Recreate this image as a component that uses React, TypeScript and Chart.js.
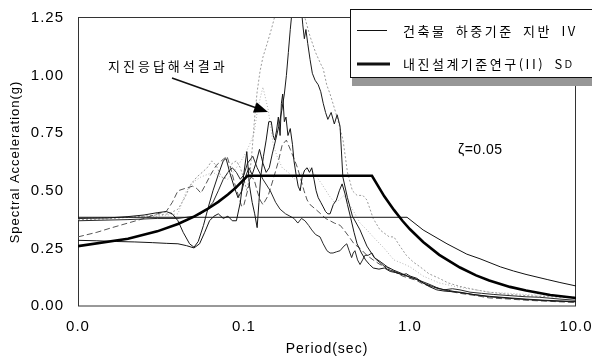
import { useEffect, useRef } from 'react';
import { Chart, registerables } from 'chart.js';

Chart.register(...registerables);

// Period (sec) / spectral acceleration (g) pairs
type Pt = [number, number];

// Design spectrum: building load code, soil type IV
const codeSoilIV: Pt[] = [
  [0.01, 0.385], [0.96, 0.385], [1.2, 0.33], [1.67, 0.27], [2.2, 0.225], [2.64, 0.205],
  [3.5, 0.17], [4.2, 0.152], [5, 0.137], [6.7, 0.115], [8, 0.102], [10, 0.087],
];

// Design spectrum: seismic design criteria study (II), SD
const criteriaSD: Pt[] = [
  [0.01, 0.26], [0.02, 0.292], [0.03, 0.324], [0.04, 0.356], [0.05, 0.388], [0.06, 0.42],
  [0.07, 0.452], [0.08, 0.484], [0.09, 0.516], [0.105, 0.565], [0.59, 0.565], [0.7, 0.476],
  [0.8, 0.417], [0.9, 0.37], [1.0, 0.333], [1.2, 0.278], [1.5, 0.222], [2, 0.167], [2.5, 0.133],
  [3, 0.111], [4, 0.083], [5, 0.067], [7, 0.048], [10, 0.035],
];

// Site response analysis results
const resp1: Pt[] = [
  [0.01, 0.285], [0.013, 0.283], [0.017, 0.28], [0.022, 0.278], [0.028, 0.275], [0.034, 0.272],
  [0.04, 0.27], [0.045, 0.262], [0.05, 0.252], [0.054, 0.27], [0.058, 0.32], [0.062, 0.37],
  [0.066, 0.39], [0.07, 0.4], [0.075, 0.38], [0.08, 0.39], [0.085, 0.37], [0.09, 0.37],
  [0.095, 0.45], [0.1, 0.58], [0.104, 0.67], [0.108, 0.52], [0.112, 0.45], [0.116, 0.4],
  [0.12, 0.34], [0.123, 0.45], [0.126, 0.56], [0.131, 0.65], [0.136, 0.72], [0.141, 0.8],
  [0.146, 0.8], [0.15, 0.74], [0.153, 0.72], [0.157, 0.76], [0.161, 0.82], [0.165, 0.74],
  [0.168, 0.88], [0.171, 0.92], [0.175, 0.8], [0.179, 0.82], [0.184, 0.74], [0.19, 0.77],
  [0.196, 0.7], [0.2, 0.63], [0.206, 0.57], [0.212, 0.52], [0.218, 0.5], [0.224, 0.56],
  [0.232, 0.59], [0.24, 0.6], [0.248, 0.58], [0.256, 0.6], [0.264, 0.55], [0.272, 0.5],
  [0.28, 0.47], [0.29, 0.45], [0.3, 0.43], [0.31, 0.41], [0.32, 0.4], [0.33, 0.4],
  [0.345, 0.44], [0.36, 0.46], [0.375, 0.5], [0.39, 0.53], [0.405, 0.49], [0.42, 0.44],
  [0.44, 0.38], [0.46, 0.32], [0.48, 0.27], [0.51, 0.23], [0.54, 0.2], [0.57, 0.18],
  [0.6, 0.165], [0.65, 0.16], [0.7, 0.165], [0.76, 0.15], [0.82, 0.145], [0.9, 0.135],
  [0.95, 0.14], [1.0, 0.13], [1.1, 0.12], [1.2, 0.1], [1.3, 0.085], [1.45, 0.07],
  [1.6, 0.065], [1.8, 0.062], [2.0, 0.06], [2.4, 0.05], [3, 0.042], [4, 0.035], [5, 0.03],
  [6.5, 0.025], [8, 0.022], [10, 0.02],
];

const resp2: Pt[] = [
  [0.01, 0.38], [0.015, 0.382], [0.02, 0.388], [0.025, 0.395], [0.03, 0.405], [0.034, 0.41],
  [0.037, 0.4], [0.04, 0.37], [0.043, 0.32], [0.047, 0.27], [0.05, 0.255], [0.053, 0.28],
  [0.057, 0.35], [0.061, 0.43], [0.065, 0.5], [0.07, 0.57], [0.075, 0.63], [0.078, 0.64],
  [0.082, 0.58], [0.087, 0.52], [0.092, 0.47], [0.097, 0.5], [0.102, 0.56], [0.107, 0.6],
  [0.112, 0.57], [0.118, 0.62], [0.124, 0.68], [0.13, 0.62], [0.136, 0.58], [0.142, 0.6],
  [0.148, 0.66], [0.155, 0.72], [0.162, 0.78], [0.169, 0.85], [0.175, 0.92], [0.18, 1.0],
  [0.185, 1.1], [0.19, 1.2], [0.196, 1.3], [0.203, 1.36], [0.212, 1.38], [0.22, 1.32],
  [0.226, 1.22], [0.231, 1.16], [0.236, 1.2], [0.242, 1.14], [0.25, 1.07], [0.258, 1.01],
  [0.268, 0.98], [0.28, 0.96], [0.29, 0.93], [0.3, 0.88], [0.31, 0.84], [0.32, 0.81],
  [0.335, 0.84], [0.35, 0.79], [0.364, 0.83], [0.379, 0.78], [0.394, 0.56], [0.42, 0.47],
  [0.45, 0.39], [0.5, 0.33], [0.55, 0.26], [0.61, 0.21], [0.67, 0.19], [0.73, 0.17],
  [0.8, 0.155], [0.9, 0.14], [1.0, 0.125], [1.1, 0.115], [1.2, 0.1], [1.35, 0.085],
  [1.5, 0.075], [1.7, 0.068], [2, 0.058], [2.5, 0.048], [3, 0.04], [4, 0.033], [5, 0.028],
  [7, 0.022], [10, 0.018],
];

const resp3: Pt[] = [
  [0.01, 0.375], [0.015, 0.378], [0.02, 0.385], [0.025, 0.39], [0.03, 0.395], [0.035, 0.4],
  [0.04, 0.42], [0.044, 0.47], [0.048, 0.53], [0.052, 0.56], [0.056, 0.58], [0.06, 0.6],
  [0.064, 0.63], [0.068, 0.61], [0.072, 0.57], [0.076, 0.55], [0.08, 0.58], [0.085, 0.62],
  [0.09, 0.63], [0.095, 0.6], [0.1, 0.55], [0.104, 0.5], [0.108, 0.56], [0.112, 0.68],
  [0.116, 0.82], [0.12, 0.93], [0.125, 1.02], [0.13, 1.08], [0.138, 1.14], [0.146, 1.2],
  [0.155, 1.27], [0.17, 1.35], [0.2, 1.38], [0.222, 1.3], [0.235, 1.24], [0.25, 1.17],
  [0.27, 1.1], [0.29, 1.05], [0.3, 1.03], [0.315, 0.96], [0.33, 0.92], [0.35, 0.86],
  [0.37, 0.8], [0.395, 0.72], [0.42, 0.58], [0.45, 0.5], [0.48, 0.48], [0.52, 0.48],
  [0.55, 0.46], [0.6, 0.38], [0.66, 0.33], [0.75, 0.3], [0.8, 0.3], [0.87, 0.26],
  [0.95, 0.22], [1.05, 0.19], [1.15, 0.17], [1.3, 0.14], [1.5, 0.12], [1.7, 0.1],
  [2, 0.085], [2.5, 0.07], [3, 0.06], [4, 0.05], [5, 0.045], [7, 0.04], [10, 0.035],
];

const resp4: Pt[] = [
  [0.01, 0.38], [0.02, 0.385], [0.03, 0.39], [0.04, 0.4], [0.045, 0.5], [0.05, 0.54],
  [0.055, 0.56], [0.065, 0.58], [0.072, 0.56], [0.08, 0.55], [0.09, 0.6], [0.1, 0.65],
  [0.108, 0.7], [0.115, 0.75], [0.12, 0.84], [0.125, 0.9], [0.13, 0.95], [0.135, 0.9],
  [0.14, 0.85], [0.15, 0.7], [0.16, 0.64], [0.17, 0.6], [0.185, 0.58], [0.2, 0.55],
  [0.225, 0.58], [0.25, 0.6], [0.275, 0.56], [0.3, 0.52], [0.325, 0.48], [0.35, 0.45],
  [0.375, 0.46], [0.4, 0.48], [0.425, 0.45], [0.45, 0.42], [0.5, 0.36], [0.55, 0.33],
  [0.6, 0.3], [0.7, 0.25], [0.8, 0.2], [0.9, 0.185], [1.0, 0.17], [1.2, 0.13], [1.5, 0.1],
  [2, 0.08], [2.5, 0.07], [3, 0.06], [4, 0.055], [5, 0.05], [7, 0.045], [10, 0.04],
];

const resp5: Pt[] = [
  [0.01, 0.37], [0.02, 0.375], [0.03, 0.38], [0.04, 0.38], [0.045, 0.385], [0.05, 0.39],
  [0.055, 0.4], [0.06, 0.42], [0.065, 0.45], [0.07, 0.5], [0.075, 0.55], [0.08, 0.58],
  [0.085, 0.6], [0.09, 0.58], [0.095, 0.55], [0.1, 0.57], [0.105, 0.62], [0.113, 0.65],
  [0.12, 0.6], [0.13, 0.55], [0.144, 0.5], [0.155, 0.45], [0.165, 0.42], [0.178, 0.4],
  [0.189, 0.39], [0.2, 0.38], [0.211, 0.36], [0.222, 0.38], [0.233, 0.37], [0.245, 0.35],
  [0.256, 0.33], [0.27, 0.31], [0.287, 0.3], [0.3, 0.27], [0.316, 0.24], [0.33, 0.23],
  [0.344, 0.23], [0.36, 0.235], [0.379, 0.24], [0.4, 0.26], [0.416, 0.27], [0.43, 0.24],
  [0.445, 0.21], [0.455, 0.23], [0.466, 0.24], [0.483, 0.2], [0.5, 0.18], [0.518, 0.2],
  [0.535, 0.22], [0.56, 0.22], [0.59, 0.23], [0.61, 0.21], [0.63, 0.2], [0.68, 0.18],
  [0.73, 0.16], [0.8, 0.15], [0.88, 0.14], [0.95, 0.13], [1.05, 0.12], [1.15, 0.11],
  [1.3, 0.095], [1.45, 0.08], [1.6, 0.07], [1.8, 0.075], [2.0, 0.07], [2.3, 0.06],
  [2.7, 0.055], [3.2, 0.05], [4, 0.045], [5, 0.04], [6, 0.038], [8, 0.03], [10, 0.025],
];

const resp6: Pt[] = [
  [0.01, 0.3], [0.013, 0.32], [0.016, 0.34], [0.02, 0.36], [0.025, 0.38], [0.03, 0.4],
  [0.034, 0.41], [0.037, 0.45], [0.04, 0.5], [0.044, 0.51], [0.049, 0.52], [0.052, 0.51],
  [0.055, 0.49], [0.058, 0.52], [0.063, 0.57], [0.068, 0.61], [0.073, 0.63], [0.079, 0.65],
  [0.083, 0.6], [0.088, 0.53], [0.097, 0.43], [0.1, 0.44], [0.105, 0.5], [0.11, 0.56],
  [0.115, 0.55], [0.12, 0.5], [0.125, 0.46], [0.13, 0.44], [0.14, 0.48], [0.15, 0.55],
  [0.16, 0.62], [0.17, 0.7], [0.18, 0.72], [0.19, 0.68], [0.2, 0.64], [0.21, 0.6],
  [0.22, 0.55], [0.23, 0.5], [0.24, 0.46], [0.25, 0.44], [0.27, 0.42], [0.29, 0.4],
  [0.31, 0.38], [0.33, 0.37], [0.35, 0.36], [0.38, 0.35], [0.4, 0.33], [0.43, 0.3],
  [0.46, 0.27], [0.5, 0.25], [0.55, 0.22], [0.6, 0.2], [0.66, 0.18], [0.72, 0.17],
  [0.8, 0.15], [0.9, 0.13], [1.0, 0.12], [1.1, 0.11], [1.2, 0.095], [1.35, 0.085],
  [1.5, 0.075], [1.7, 0.065], [2, 0.055], [2.5, 0.045], [3, 0.035], [4, 0.03], [5, 0.025],
  [7, 0.02], [10, 0.015],
];

const xTicks = [0.01, 0.1, 1, 10];
const xTickLabels = ['0.0', '0.1', '1.0', '10.0'];
const yTicks = [0, 0.25, 0.5, 0.75, 1.0, 1.25];

const legendLabels = ['건축물 하중기준 지반 IV', '내진설계기준연구(II) S'];
const legendSub = 'D';
const noteText = '지진응답해석결과';
const dampingText = 'ζ=0.05';

const LATIN = '"Liberation Sans", Arial, sans-serif';
const HANGUL = '"Noto Sans CJK KR", "Noto Sans", sans-serif';

const toXY = (pts: Pt[]) => pts.map(([x, y]) => ({ x, y }));

const decor = {
  id: 'decor',
  beforeDraw(chart: any) {
    chart.ctx.letterSpacing = '1px';
  },
  beforeDatasetsDraw(chart: any) {
    const { ctx, chartArea: a } = chart;
    ctx.save();
    ctx.strokeStyle = '#333';
    ctx.lineWidth = 1;
    ctx.strokeRect(Math.round(a.left) + 0.5, Math.round(a.top) - 0.5,
      Math.round(a.right - a.left) - 1, Math.round(a.bottom - a.top) + 0.5);
    ctx.restore();
  },
  afterDraw(chart: any) {
    const ctx: CanvasRenderingContext2D = chart.ctx;
    ctx.save();
    // legend box with drop shadow
    ctx.fillStyle = '#979797';
    ctx.fillRect(352, 78, 240, 8);
    ctx.fillStyle = '#fff';
    ctx.fillRect(350, 9, 250, 69);
    ctx.strokeStyle = '#111';
    ctx.lineWidth = 1;
    ctx.strokeRect(350.5, 9.5, 260, 68);

    ctx.beginPath();
    ctx.moveTo(357, 30.5);
    ctx.lineTo(387, 30.5);
    ctx.lineWidth = 1;
    ctx.stroke();
    ctx.beginPath();
    ctx.moveTo(357, 64);
    ctx.lineTo(390, 64);
    ctx.lineWidth = 3;
    ctx.stroke();

    ctx.fillStyle = '#000';
    ctx.textBaseline = 'middle';
    ctx.textAlign = 'left';
    (ctx as any).letterSpacing = '2.5px';
    (ctx as any).wordSpacing = '4px';
    ctx.font = `13px ${HANGUL}`;
    ctx.fillText(legendLabels[0], 403, 31);
    ctx.fillText(legendLabels[1], 403, 64);
    const w = ctx.measureText(legendLabels[1]).width;
    ctx.font = `10px ${LATIN}`;
    (ctx as any).letterSpacing = '0px';
    ctx.fillText(legendSub, 403 + w, 65);

    // annotation with arrow
    (ctx as any).wordSpacing = '0px';
    (ctx as any).letterSpacing = '3px';
    ctx.font = `13px ${HANGUL}`;
    ctx.fillText(noteText, 108, 66);
    ctx.beginPath();
    ctx.moveTo(172, 78);
    ctx.lineTo(258, 108.5);
    ctx.lineWidth = 1.5;
    ctx.stroke();
    const tip = { x: 268, y: 112 };
    const ang = Math.atan2(34, 96);
    const len = 14;
    const half = 5.5;
    const bx = tip.x - len * Math.cos(ang);
    const by = tip.y - len * Math.sin(ang);
    ctx.beginPath();
    ctx.moveTo(tip.x, tip.y);
    ctx.lineTo(bx - half * Math.sin(ang), by + half * Math.cos(ang));
    ctx.lineTo(bx + half * Math.sin(ang), by - half * Math.cos(ang));
    ctx.closePath();
    ctx.fill();

    (ctx as any).letterSpacing = '0.5px';
    ctx.font = `14px ${LATIN}`;
    ctx.fillText(dampingText, 458, 150);
    ctx.restore();
  },
};

export default function App() {
  const ref = useRef<HTMLCanvasElement>(null);

  useEffect(() => {
    const line = (data: Pt[], color: string, width: number, dash: number[] = []) => ({
      data: toXY(data),
      borderColor: color,
      backgroundColor: color,
      borderWidth: width,
      borderDash: dash,
      pointRadius: 0,
      tension: 0,
      fill: false,
    });

    const chart = new Chart(ref.current!, {
      type: 'line',
      data: {
        datasets: [
          line(criteriaSD, '#000', 2.6),
          line(codeSoilIV, '#111', 1),
          line(resp1, '#151515', 1),
          line(resp2, '#1a1a1a', 1),
          line(resp5, '#2a2a2a', 1),
          line(resp6, '#555', 1, [6, 3]),
          line(resp3, '#9a9a9a', 1, [2, 2]),
          line(resp4, '#b4b4b4', 1, [1, 2]),
        ],
      },
      options: {
        responsive: false,
        animation: false,
        events: [],
        layout: { padding: { left: 0, top: 18, right: 16, bottom: 0 } },
        plugins: { legend: { display: false }, tooltip: { enabled: false } },
        scales: {
          x: {
            type: 'logarithmic',
            min: 0.01,
            max: 10,
            grid: { display: false, drawTicks: false },
            border: { display: false },
            afterBuildTicks: (s: any) => { s.ticks = xTicks.map((v) => ({ value: v })); },
            afterFit: (s: any) => { s.height = 54; s.paddingLeft = 0; s.paddingRight = 0; },
            ticks: {
              padding: 12,
              maxRotation: 0,
              autoSkip: false,
              color: '#000',
              font: { family: LATIN, size: 15 },
              callback: (v: any) => xTickLabels[xTicks.indexOf(Number(v))] ?? '',
            },
            title: {
              display: true,
              text: 'Period(sec)',
              color: '#000',
              font: { family: LATIN, size: 14 },
              padding: { top: 0, bottom: 2 },
            },
          },
          y: {
            min: 0,
            max: 1.25,
            grid: { display: false, drawTicks: false },
            border: { display: false },
            afterBuildTicks: (s: any) => { s.ticks = yTicks.map((v) => ({ value: v })); },
            afterFit: (s: any) => { s.width = 78; s.paddingTop = 0; s.paddingBottom = 0; },
            ticks: {
              padding: 14,
              color: '#000',
              font: { family: LATIN, size: 15 },
              callback: (v: any) => Number(v).toFixed(2),
            },
            title: {
              display: true,
              text: 'Spectral Acceleration(g)',
              color: '#000',
              font: { family: LATIN, size: 13 },
              padding: { top: 8, bottom: 0 },
            },
          },
        },
      },
      plugins: [decor],
    });
    return () => chart.destroy();
  }, []);

  return (
    <div style={{ position: 'fixed', left: 0, top: 0, width: 592, height: 360, background: '#fff' }}>
      <canvas ref={ref} width={592} height={360} style={{ display: 'block', width: 592, height: 360 }} />
    </div>
  );
}
